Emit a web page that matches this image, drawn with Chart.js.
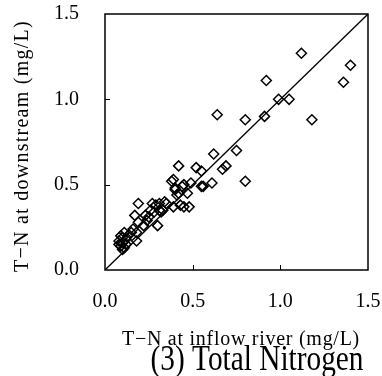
<!DOCTYPE html>
<html><head><meta charset="utf-8">
<script src="https://cdn.jsdelivr.net/npm/chart.js@4"></script>
<style>html,body{margin:0;padding:0;background:#fff}canvas{display:block}</style>
</head><body>
<canvas id="c" width="382" height="376"></canvas>
<script>
const inflowTN = [1.12,1.40,1.36,0.92,0.99,1.05,0.64,0.80,0.91,1.18,
 0.75,0.62,0.69,0.67,0.80,
 0.42,0.52,0.55,0.61,0.55,0.56,0.49,0.39,0.38,0.45,0.44,0.40,0.42,0.47,0.40,0.41,
 0.43,0.48,0.45,0.39,0.34,0.33,
 0.19,0.27,0.29,0.31,0.35,0.26,0.28,0.31,0.32,
 0.17,0.23,0.25,0.19,0.24,0.30,0.22,
 0.15,0.11,0.18,0.09,0.12,0.18,0.10,0.08,0.09,0.11,0.10,0.12,0.13,0.16,0.08,0.10];
const downstreamTN = [1.27,1.20,1.10,1.11,1.00,1.00,0.91,0.88,0.90,0.88,
 0.70,0.68,0.61,0.59,0.52,
 0.61,0.60,0.58,0.51,0.49,0.49,0.51,0.53,0.52,0.50,0.49,0.48,0.45,0.45,0.47,0.44,
 0.38,0.37,0.37,0.37,0.40,0.35,
 0.39,0.39,0.38,0.39,0.39,0.35,0.34,0.35,0.34,
 0.32,0.32,0.31,0.28,0.29,0.26,0.26,
 0.22,0.22,0.22,0.20,0.18,0.17,0.16,0.15,0.14,0.13,0.12,0.15,0.20,0.24,0.17,0.19];
const refLineX = [0, 1.5];
const refLineY = [0, 1.5];
const tickValues = [0, 0.5, 1.0, 1.5];
const xTitle = "T\u2212N at inflow river (mg/L)";
const yTitle = "T\u2212N at downstream (mg/L)";
const chartTitle = "(3) Total Nitrogen";

const pts = inflowTN.map((x,i)=>({x, y: downstreamTN[i]}));
const linePts = refLineX.map((x,i)=>({x, y: refLineY[i]}));

function fitText(ctx, text, font, width){
  ctx.font = font;
  ctx.letterSpacing = '0px';
  const w = ctx.measureText(text).width;
  const ls = (width - w) / (text.length);
  ctx.letterSpacing = ls.toFixed(2) + 'px';
}

const frame = {
  id: 'frame',
  afterDraw(chart){
    const {ctx, chartArea:a, scales:{x, y}} = chart;
    ctx.save();
    ctx.strokeStyle = '#000';
    ctx.lineWidth = 1.5;
    ctx.strokeRect(a.left, a.top, a.right-a.left, a.bottom-a.top);
    ctx.lineWidth = 1;
    tickValues.slice(1,3).forEach(v=>{
      const px = Math.round(x.getPixelForValue(v))+0.5;
      ctx.beginPath(); ctx.moveTo(px, a.bottom); ctx.lineTo(px, a.bottom-5); ctx.stroke();
      const py = Math.round(y.getPixelForValue(v))+0.5;
      ctx.beginPath(); ctx.moveTo(a.left, py); ctx.lineTo(a.left+5, py); ctx.stroke();
    });
    ctx.fillStyle = '#000';
    ctx.textAlign = 'center';
    ctx.textBaseline = 'alphabetic';
    fitText(ctx, xTitle, '20px "Liberation Serif"', 238);
    ctx.fillText(xTitle, 241, 345);
    ctx.save();
    fitText(ctx, yTitle, '20px "Liberation Serif"', 252);
    ctx.translate(28, 146);
    ctx.rotate(-Math.PI/2);
    ctx.scale(1, 1.1);
    ctx.fillText(yTitle, 0, 0);
    ctx.restore();
    ctx.save();
    ctx.font = '27px "Liberation Serif"';
    ctx.letterSpacing = '0px';
    const tw = ctx.measureText(chartTitle).width;
    ctx.translate(257, 370);
    ctx.scale(213 / tw, 1.3);
    ctx.fillText(chartTitle, 0, 0);
    ctx.restore();
    ctx.restore();
  }
};

const tickFont = {family: '"Liberation Serif"', size: 20};
new Chart(document.getElementById('c'), {
  data: {
    datasets: [
      {type:'line', data: linePts, borderColor:'#000', borderWidth:1.3, pointRadius:0, fill:false, order:2},
      {type:'scatter', data: pts, pointStyle:'rectRot', pointRadius:5, borderColor:'#000', borderWidth:1.5, backgroundColor:'rgba(0,0,0,0)', order:1}
    ]
  },
  options: {
    responsive:false, animation:false, devicePixelRatio:1,
    layout:{padding:{top:14, right:14, left:0, bottom:0}},
    plugins:{legend:{display:false}, tooltip:{enabled:false}},
    scales:{
      x:{type:'linear', min:0, max:1.5, afterBuildTicks:s=>{s.ticks = tickValues.map(v=>({value:v}));},
         ticks:{callback:v=>v.toFixed(1), color:'#000', font:tickFont, padding:20, maxRotation:0, minRotation:0},
         grid:{display:false, drawTicks:false, tickLength:0}, border:{display:false},
         afterFit:s=>{s.height = 106; s.paddingLeft = 0; s.paddingRight = 0;}},
      y:{type:'linear', min:0, max:1.5, afterBuildTicks:s=>{s.ticks = tickValues.map(v=>({value:v}));},
         ticks:{callback:v=>v.toFixed(1), color:'#000', font:tickFont, padding:26},
         grid:{display:false, drawTicks:false, tickLength:0}, border:{display:false},
         afterFit:s=>{s.width = 105; s.paddingTop = 0; s.paddingBottom = 0;}}
    }
  },
  plugins:[frame]
});
</script>
</body></html>
